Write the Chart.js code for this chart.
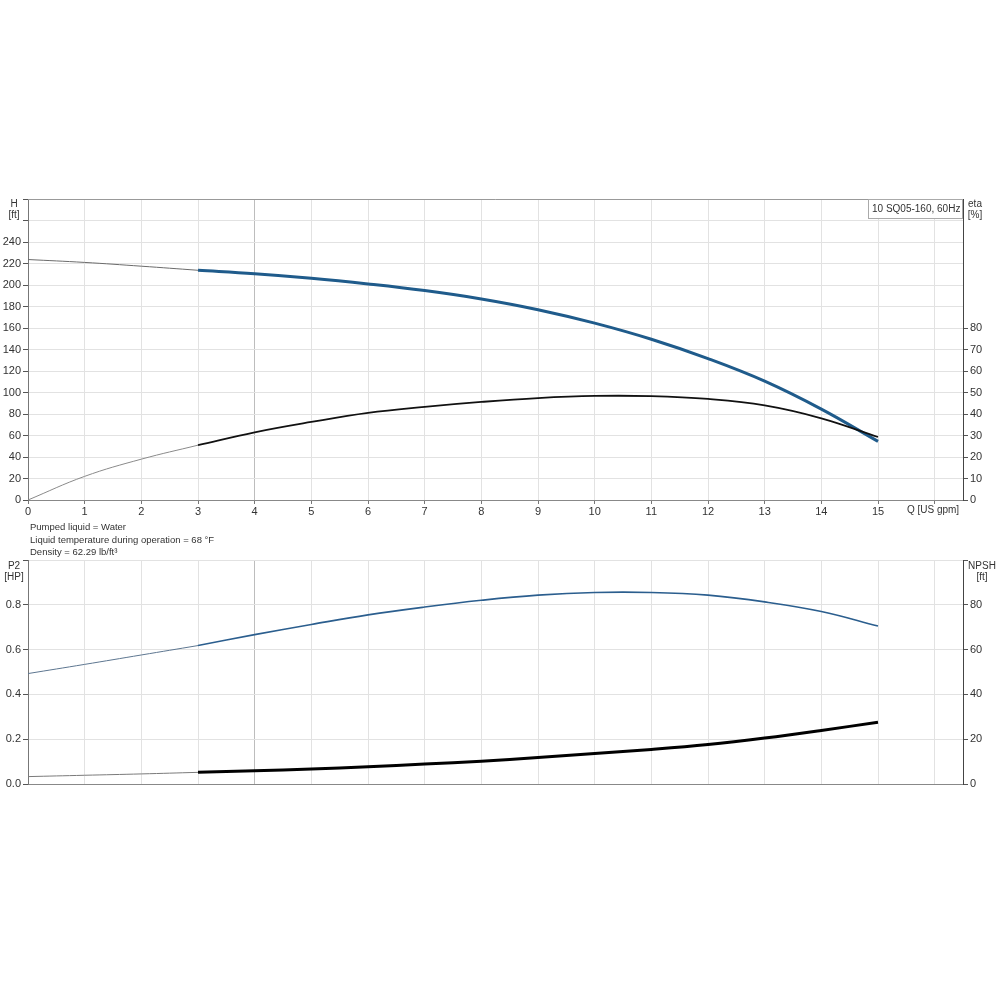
<!DOCTYPE html>
<html>
<head>
<meta charset="utf-8">
<script src="https://cdn.jsdelivr.net/npm/chart.js@4.4.1/dist/chart.umd.min.js"></script>
<style>
    html, body { margin: 0; padding: 0; background: #fff; }
    #wrap { position: relative; width: 1000px; height: 1000px; }
    #topChart { position: absolute; left: 0; top: 0; }
    #bottomChart { position: absolute; left: 0; top: 520px; }
</style>
</head>
<body>
<div id="wrap">
    <canvas id="topChart" width="1000" height="520"></canvas>
    <canvas id="bottomChart" width="1000" height="280"></canvas>
</div>
<script>
// flow rate Q [US gpm]
const qFlow = [0, 1, 2, 3, 4, 5, 6, 7, 8, 9, 10, 11, 12, 13, 14, 15];
// head H [ft]
const headFt = [223.7, 221, 217.5, 213.7, 210.5, 206.3, 201, 194.8, 187, 177, 164.5, 149.5, 131.5, 110.5, 84.5, 54.5];
// efficiency eta [%]
const etaPct = [0, 11, 19, 25.5, 31.5, 36.3, 40.5, 43.3, 45.6, 47.4, 48.4, 48.3, 47, 44, 38, 29.3];
// shaft power P2 [HP]
const p2Hp = [0.493, 0.534, 0.576, 0.618, 0.667, 0.712, 0.755, 0.79, 0.82, 0.843, 0.855, 0.855, 0.843, 0.813, 0.77, 0.705];
// NPSH [ft]
const npshFt = [3.3, 3.9, 4.5, 5.2, 5.9, 6.7, 7.7, 8.9, 10.2, 11.8, 13.6, 15.4, 17.6, 20.5, 23.9, 27.6];

const xTickValues = [0, 1, 2, 3, 4, 5, 6, 7, 8, 9, 10, 11, 12, 13, 14, 15, 16];
const headTicks = [0, 20, 40, 60, 80, 100, 120, 140, 160, 180, 200, 220, 240, 260, 280];
const etaTicks = [0, 10, 20, 30, 40, 50, 60, 70, 80];
const p2Ticks = [0, 0.2, 0.4, 0.6, 0.8, 1.0];
const npshTicks = [0, 20, 40, 60, 80, 100];

const curveTitle = '10 SQ05-160, 60Hz';
const liquidInfo = [
    'Pumped liquid = Water',
    'Liquid temperature during operation = 68 \u00b0F',
    'Density = 62.29 lb/ft\u00b3'
];

const FONT = '"Liberation Sans", Arial, sans-serif';
const GRID = '#e2e2e2';
const START_IDX = 3; // thin line up to Q = 3, full curve after

Chart.defaults.font.family = FONT;
Chart.defaults.font.size = 11;
Chart.defaults.color = '#333';

function points(values, from, to) {
    const out = [];
    for (let i = from; i <= to; i++) {
        out.push({ x: qFlow[i], y: values[i] });
    }
    return out;
}

function curve(values, axis, color, width) {
    return {
        data: points(values, START_IDX, qFlow.length - 1),
        yAxisID: axis,
        borderColor: color,
        borderWidth: width,
        pointRadius: 0,
        tension: 0.4,
        fill: false
    };
}

function thinCurve(values, axis, color) {
    return {
        data: points(values, 0, START_IDX),
        yAxisID: axis,
        borderColor: color,
        borderWidth: 1,
        pointRadius: 0,
        tension: 0.4,
        fill: false
    };
}

function fixedTicks(list) {
    return function(scale) {
        scale.ticks = list.map(v => ({ value: v }));
    };
}

function gridColor(ctx) {
    return ctx.tick && ctx.tick.value === 4 ? '#bdbdbd' : GRID;
}

function xScale(showLabels) {
    return {
        type: 'linear',
        min: 0,
        max: 16.5,
        afterBuildTicks: fixedTicks(xTickValues),
        afterFit: function(scale) { scale.height = showLabels ? 20 : 16; },
        ticks: {
            display: showLabels,
            padding: 1,
            maxRotation: 0,
            callback: function(value) { return value === 16 ? '' : value; }
        },
        grid: {
            color: gridColor,
            tickColor: '#777',
            tickLength: 4,
            drawTicks: showLabels
        },
        border: { color: '#888' }
    };
}

function yScale(position, max, tickList, shown, width, format) {
    return {
        type: 'linear',
        position: position,
        min: 0,
        max: max,
        afterBuildTicks: fixedTicks(tickList),
        afterFit: function(scale) { scale.width = width; },
        ticks: {
            padding: 2,
            callback: function(value) { return value > shown ? '' : format(value); }
        },
        grid: {
            color: GRID,
            drawOnChartArea: position === 'left',
            tickColor: '#555',
            tickLength: 5
        },
        border: { color: position === 'left' ? '#777' : '#444' }
    };
}

function drawText(ctx, text, x, y, align, size) {
    ctx.save();
    ctx.font = (size || 10) + 'px ' + FONT;
    ctx.fillStyle = '#333';
    ctx.textAlign = align;
    ctx.textBaseline = 'middle';
    ctx.fillText(text, x, y);
    ctx.restore();
}

const topLabels = {
    id: 'topLabels',
    afterDraw: function(chart) {
        const ctx = chart.ctx;
        const area = chart.chartArea;

        // frame top edge
        ctx.save();
        ctx.strokeStyle = '#999';
        ctx.lineWidth = 1;
        ctx.beginPath();
        ctx.moveTo(area.left, area.top + 0.5);
        ctx.lineTo(area.right, area.top + 0.5);
        ctx.stroke();

        // curve name box
        const boxW = 95;
        const boxH = 19;
        ctx.fillStyle = '#fff';
        ctx.fillRect(area.right - boxW, area.top, boxW, boxH);
        ctx.strokeStyle = '#aaa';
        ctx.strokeRect(area.right - boxW + 0.5, area.top + 0.5, boxW - 1, boxH);
        ctx.restore();
        drawText(ctx, curveTitle, area.right - boxW + 4, area.top + 10, 'left', 10);

        drawText(ctx, 'H', 14, 204, 'center', 10);
        drawText(ctx, '[ft]', 14, 215, 'center', 10);
        drawText(ctx, 'eta', 975, 204, 'center', 10);
        drawText(ctx, '[%]', 975, 215, 'center', 10);
        drawText(ctx, 'Q [US gpm]', 933, area.bottom + 10, 'center', 10);
    }
};

const bottomLabels = {
    id: 'bottomLabels',
    afterDraw: function(chart) {
        const ctx = chart.ctx;
        liquidInfo.forEach((line, i) => {
            drawText(ctx, line, 30, 7.5 + i * 12.5, 'left', 9.5);
        });
        drawText(ctx, 'P2', 14, 46, 'center', 10);
        drawText(ctx, '[HP]', 14, 57, 'center', 10);
        drawText(ctx, 'NPSH', 982, 46, 'center', 10);
        drawText(ctx, '[ft]', 982, 57, 'center', 10);
    }
};

const commonOptions = {
    responsive: false,
    animation: false,
    plugins: {
        legend: { display: false },
        tooltip: { enabled: false }
    }
};

new Chart(document.getElementById('topChart').getContext('2d'), {
    type: 'line',
    data: {
        datasets: [
            thinCurve(headFt, 'y', '#6b6b6b'),
            thinCurve(etaPct, 'y2', '#8a8a8a'),
            curve(etaPct, 'y2', '#111111', 1.8),
            curve(headFt, 'y', '#1f5b8b', 3)
        ]
    },
    options: {
        ...commonOptions,
        layout: { padding: { top: 199, left: 0, right: 0, bottom: 0 } },
        scales: {
            x: xScale(true),
            y: yScale('left', 280, headTicks, 240, 28, v => v),
            y2: yScale('right', 140, etaTicks, 80, 37, v => v)
        }
    },
    plugins: [topLabels]
});

new Chart(document.getElementById('bottomChart').getContext('2d'), {
    type: 'line',
    data: {
        datasets: [
            thinCurve(p2Hp, 'y', '#5d7690'),
            thinCurve(npshFt, 'y2', '#7a7a7a'),
            curve(p2Hp, 'y', '#2b5e8e', 1.6),
            curve(npshFt, 'y2', '#000000', 3)
        ]
    },
    options: {
        ...commonOptions,
        layout: { padding: { top: 40, left: 0, right: 0, bottom: 0 } },
        scales: {
            x: xScale(false),
            y: yScale('left', 1.0, p2Ticks, 0.9, 28, v => v.toFixed(1)),
            y2: yScale('right', 100, npshTicks, 90, 37, v => v)
        }
    },
    plugins: [bottomLabels]
});
</script>
</body>
</html>
